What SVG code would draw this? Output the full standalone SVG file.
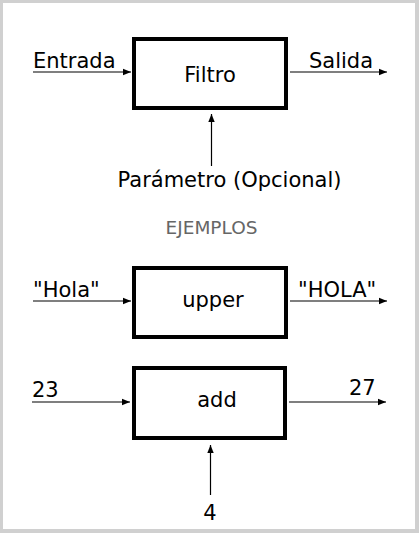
<svg xmlns="http://www.w3.org/2000/svg" width="419" height="533" viewBox="0 0 419 533">
<defs>
<style>
text{font-family:"DejaVu Sans",sans-serif;font-size:21px;fill:#000}
.box rect{fill:#fff;stroke:#000;stroke-width:4}
.c line{stroke:#000;stroke-width:1.2;marker-end:url(#ah)}
.hdr{font-size:18.5px;fill:#666}
</style>
<marker id="ah" viewBox="0 0 10 10" refX="10" refY="5" markerWidth="8" markerHeight="8" markerUnits="userSpaceOnUse" orient="auto"><path d="M0,1 L10,5 L0,9 Z" fill="#000"/></marker>
</defs>
<rect x="0" y="0" width="419" height="533" fill="#d0d0d0"/>
<rect x="3" y="3" width="412" height="526" fill="#fff"/>
<g id="filtro" class="box"><rect x="134" y="39" width="152" height="69"/><text x="210" y="82" text-anchor="middle">Filtro</text></g>
<g id="upper" class="box"><rect x="134" y="268" width="152" height="69"/><text x="213" y="307" text-anchor="middle">upper</text></g>
<g id="add" class="box"><rect x="134" y="368" width="151" height="70"/><text x="217" y="407" text-anchor="middle">add</text></g>
<g id="labels">
<text x="33" y="68">Entrada</text>
<text x="309" y="68">Salida</text>
<text x="229.5" y="187" text-anchor="middle">Parámetro (Opcional)</text>
<text class="hdr" x="211.5" y="234" text-anchor="middle">EJEMPLOS</text>
<text x="33" y="297">"Hola"</text>
<text x="298" y="297">"HOLA"</text>
<text x="32" y="397">23</text>
<text x="349" y="395">27</text>
<text x="210" y="520" text-anchor="middle">4</text>
</g>
<g id="connectors" class="c">
<line x1="33" y1="72" x2="131" y2="72"/>
<line x1="290" y1="72" x2="387" y2="72"/>
<line x1="211.5" y1="166" x2="211.5" y2="114"/>
<line x1="33" y1="301" x2="131" y2="301"/>
<line x1="290" y1="301" x2="387" y2="301"/>
<line x1="32" y1="402" x2="130" y2="402"/>
<line x1="289" y1="402" x2="386" y2="402"/>
<line x1="210.5" y1="495" x2="210.5" y2="445"/>
</g>
</svg>
